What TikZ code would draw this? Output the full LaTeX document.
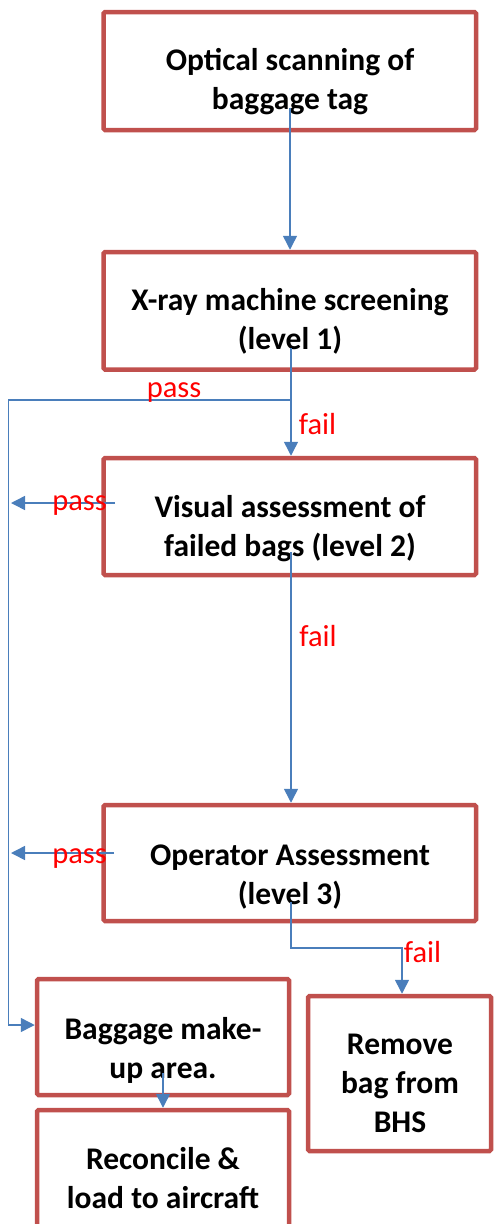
\documentclass[tikz,border=0pt]{standalone}
\usepackage{fontspec}
\setmainfont{Carlito}
\usetikzlibrary{arrows.meta}
\definecolor{boxred}{HTML}{C0504D}
\definecolor{linkblue}{HTML}{4A7EBB}
\begin{document}
\begin{tikzpicture}[x=1pt,y=-1pt,
  box/.style={draw=boxred, line width=4.5pt, rounded corners=1.5pt, inner sep=0pt, fill=none},
  txt/.style={align=center, font=\bfseries\fontsize{31.5}{39}\selectfont, inner sep=0pt},
  lbl/.style={text=red, font=\fontsize{30.5}{36}\selectfont, inner sep=0pt, anchor=base},
  conn/.style={draw=linkblue, line width=1.5pt},
  arr/.style={conn, -{Triangle[length=14pt,width=14pt]}}]
\useasboundingbox (0,0) rectangle (495,1224);
% boxes
\node[box, minimum width=372.5pt, minimum height=118pt] (b1) at (289.75,71) {};
\node[box, minimum width=372.5pt, minimum height=117.5pt] (b2) at (289.75,310.75) {};
\node[box, minimum width=372.5pt, minimum height=117pt] (b3) at (289.75,516.5) {};
\node[box, minimum width=372.5pt, minimum height=116pt] (b4) at (289.75,863) {};
\node[box, minimum width=252pt, minimum height=116pt] (b5) at (163,1037) {};
\node[box, minimum width=252pt, minimum height=140pt] (b6) at (163,1180) {};
\node[box, minimum width=183pt, minimum height=155pt] (b7) at (399.5,1073.5) {};
% texts
\node[txt] (t1) at (290,82) {Optical scanning of\\baggage tag};
\node[txt] (t2) at (290,321) {X-ray machine screening\\(level 1)};
\node[txt] (t3) at (290,529) {Visual assessment of\\failed bags (level 2)};
\node[txt] (t4) at (290,877) {Operator Assessment\\(level 3)};
\node[txt] (t5) at (163,1050) {Baggage make-\\up area.};
\node[txt] (t6) at (163,1178) {Reconcile \&\\load to aircraft};
\node[txt] (t7) at (400,1083) {Remove\\bag from\\BHS};
% connector points
\coordinate (s1) at (290,108);
\coordinate (s2) at (291,348);
\coordinate (j1) at (291,400);
\coordinate (lt) at (8.5,400);
\coordinate (lb) at (8.5,1025);
\coordinate (s3) at (291,552);
\coordinate (p2s) at (115,503);
\coordinate (p2e) at (11,503);
\coordinate (p3s) at (114,853);
\coordinate (p3e) at (11,853);
\coordinate (s4) at (291,902);
\coordinate (k1) at (291,948);
\coordinate (k2) at (402,948);
\coordinate (s5) at (163,1073);
% connectors
\draw[arr] (s1) -- (s1 |- b2.north);
\draw[arr] (s2) -- (s2 |- b3.north);
\draw[arr] (j1) -- (lt) -- (lb) -- (lb -| b5.west);
\draw[arr] (s3) -- (s3 |- b4.north);
\draw[arr] (p2s) -- (p2e);
\draw[arr] (p3s) -- (p3e);
\draw[arr] (s4) -- (k1) -- (k2) -- (k2 |- b7.north);
\draw[arr] (s5) -- (s5 |- b6.north);
% labels
\node[lbl] (l1) at (174,397) {pass};
\node[lbl] (l2) at (317.5,434) {fail};
\node[lbl] (l3) at (79.5,510) {pass};
\node[lbl] (l4) at (318,646) {fail};
\node[lbl] (l5) at (79.5,863) {pass};
\node[lbl] (l6) at (422.5,962) {fail};
\end{tikzpicture}
\end{document}
